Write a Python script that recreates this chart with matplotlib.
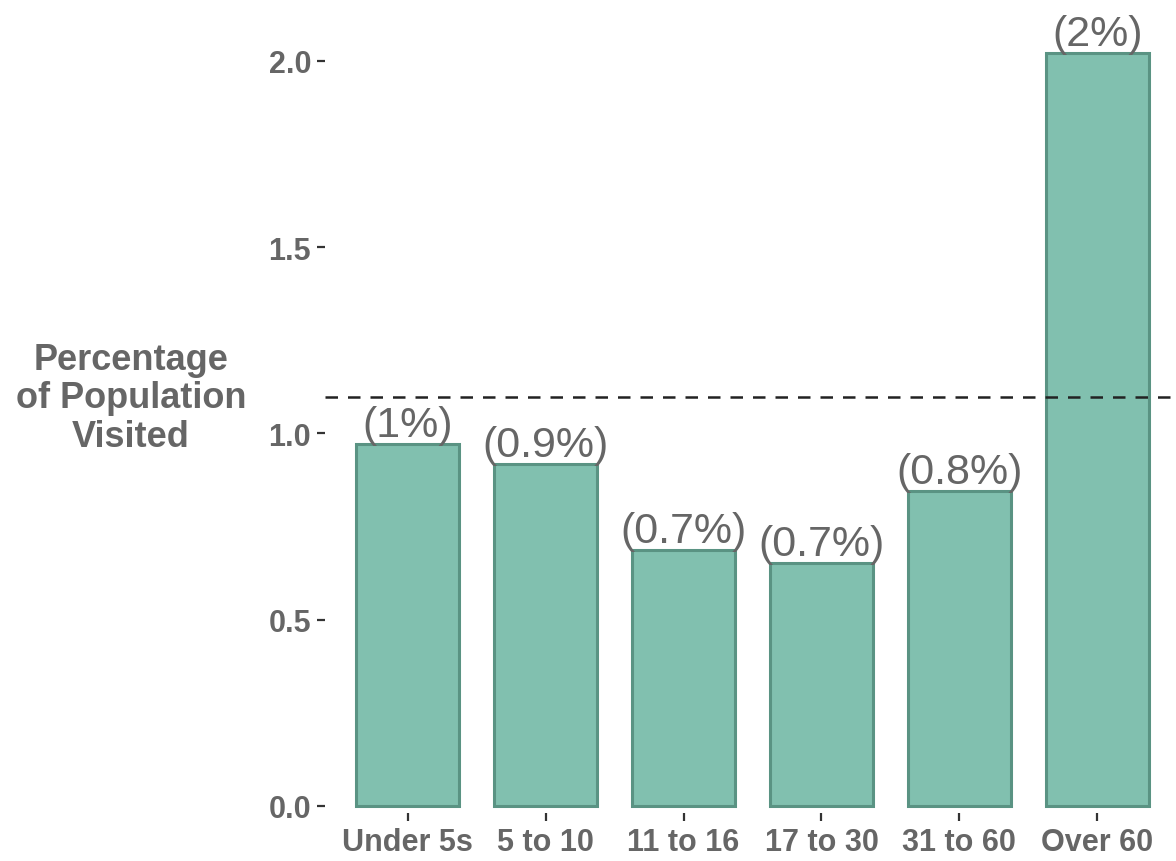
import matplotlib.pyplot as plt

plt.rcParams['font.family'] = ['Liberation Sans', 'DejaVu Sans']

# share of each age group that visited, in percent
age_groups = ['Under 5s', '5 to 10', '11 to 16', '17 to 30', '31 to 60', 'Over 60']
visited_pct = [0.972, 0.918, 0.687, 0.652, 0.846, 2.021]
overall_pct = 1.098
y_ticks = [0.0, 0.5, 1.0, 1.5, 2.0]

fig = plt.figure(figsize=(11.76, 8.62), dpi=100)
ax = fig.add_axes([325 / 1176, 48 / 862, 855 / 1176, 799 / 862])

x = list(range(len(age_groups)))
ax.bar(x, visited_pct, width=0.75, color='#81c0af', edgecolor='#5a9383', linewidth=2.2)

for xi, v in zip(x, visited_pct):
    ax.text(xi, v + 0.022, f'({v:.1g}%)', ha='center', va='baseline',
            fontsize=31, color='#666666')

ax.axhline(overall_pct, color='#222222', linewidth=1.8, linestyle=(0, (5, 4)))

ax.set_xlim(-0.6, 5.6)
ax.set_ylim(-0.019, 2.126)
ax.set_xticks(x)
ax.set_xticklabels(age_groups)
ax.set_yticks(y_ticks)
ax.set_yticklabels([f'{t:.1f}' for t in y_ticks])

for s in ax.spines.values():
    s.set_visible(False)
ax.tick_params(axis='both', length=6, width=1.6, color='#333333', labelsize=22,
               labelcolor='#666666', pad=4)
for lab in ax.get_xticklabels() + ax.get_yticklabels():
    lab.set_fontweight('bold')

fig.text(131 / 1176, 1 - 399 / 862, 'Percentage\nof Population\nVisited',
         ha='center', va='center', multialignment='center', fontsize=26,
         fontweight='bold', color='#666666', linespacing=1.13)

fig.savefig('out.png', dpi=100)
